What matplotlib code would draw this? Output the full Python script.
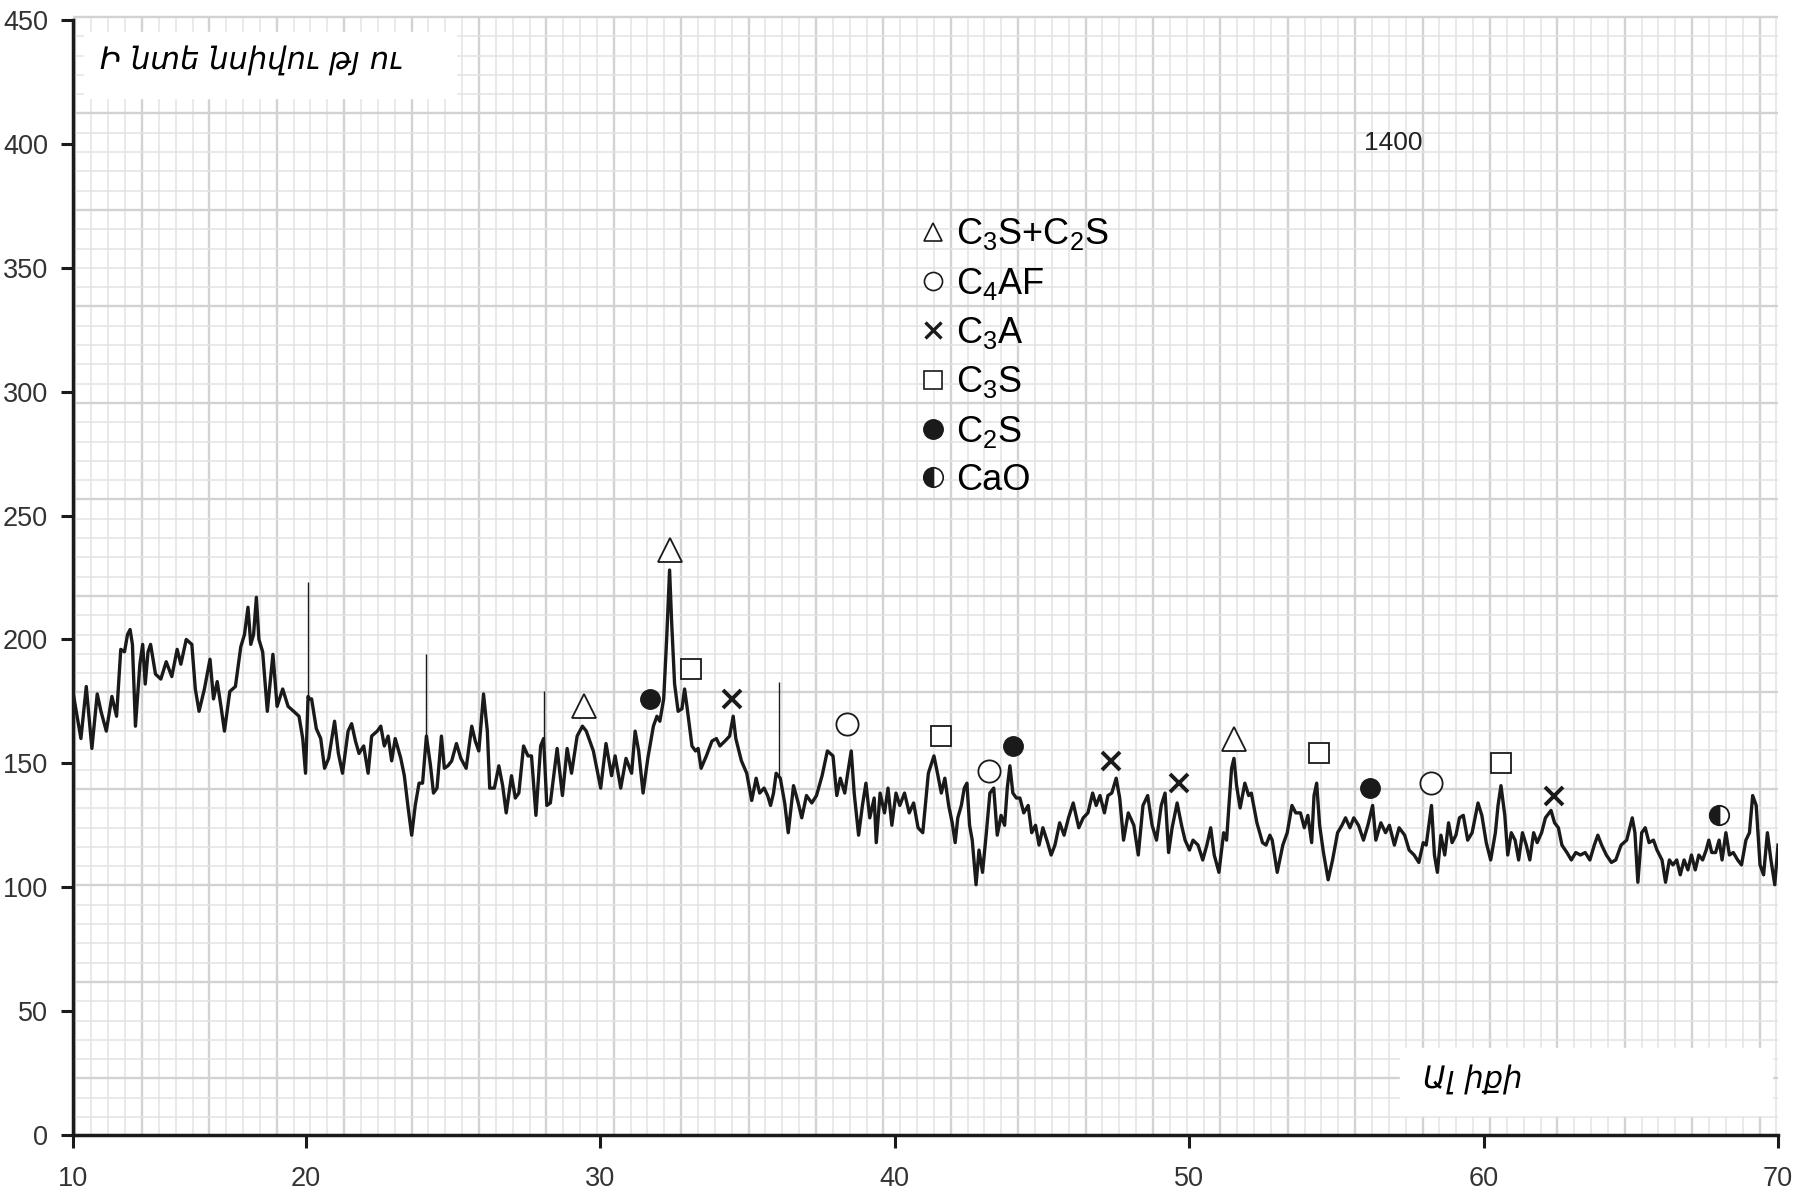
import numpy as np
import matplotlib.pyplot as plt
from matplotlib.lines import Line2D
from matplotlib.patches import Rectangle

plt.rcParams['font.family'] = ['Liberation Sans', 'DejaVu Sans']
plt.rcParams['mathtext.default'] = 'regular'

# XRD pattern (2θ, intensity)
two_theta = [
    10.03, 10.34, 10.57, 10.81, 11.04, 11.20, 11.43, 11.67, 11.87, 12.05,
    12.21, 12.34, 12.45, 12.55, 12.68, 12.87, 12.99, 13.10, 13.22, 13.33,
    13.54, 13.77, 14.00, 14.24, 14.47, 14.63, 14.86, 15.10, 15.25, 15.41,
    15.64, 15.88, 16.03, 16.19, 16.35, 16.50, 16.73, 16.97, 17.20, 17.36,
    17.51, 17.63, 17.75, 17.87, 17.98, 18.14, 18.34, 18.58, 18.76, 19.00,
    19.23, 19.47, 19.70, 19.86, 19.98, 20.07, 20.11, 20.19, 20.35, 20.50,
    20.63, 20.77, 20.97, 21.10, 21.24, 21.43, 21.55, 21.68, 21.80, 21.96,
    22.11, 22.23, 22.42, 22.54, 22.66, 22.79, 22.91, 23.03, 23.22, 23.34,
    23.47, 23.59, 23.71, 23.84, 23.96, 24.09, 24.23, 24.33, 24.45, 24.60,
    24.70, 24.82, 24.95, 25.11, 25.26, 25.44, 25.63, 25.75, 25.87, 26.03,
    26.16, 26.24, 26.40, 26.55, 26.68, 26.80, 26.98, 27.11, 27.23, 27.39,
    27.54, 27.66, 27.81, 27.97, 28.07, 28.18, 28.30, 28.53, 28.71, 28.87,
    29.02, 29.21, 29.39, 29.52, 29.76, 30.01, 30.19, 30.38, 30.50, 30.69,
    30.87, 31.06, 31.18, 31.30, 31.45, 31.61, 31.80, 31.92, 32.02, 32.15,
    32.25, 32.35, 32.42, 32.52, 32.64, 32.77, 32.86, 32.94, 33.11, 33.23,
    33.32, 33.42, 33.60, 33.79, 33.94, 34.06, 34.23, 34.39, 34.51, 34.60,
    34.79, 34.97, 35.14, 35.29, 35.41, 35.56, 35.68, 35.78, 35.88, 35.97,
    36.11, 36.26, 36.38, 36.56, 36.72, 36.84, 37.00, 37.18, 37.34, 37.53,
    37.71, 37.90, 38.03, 38.15, 38.30, 38.40, 38.52, 38.62, 38.77, 38.90,
    39.02, 39.15, 39.30, 39.37, 39.50, 39.65, 39.77, 39.90, 40.04, 40.17,
    40.33, 40.49, 40.64, 40.79, 40.95, 41.14, 41.33, 41.45, 41.58, 41.70,
    41.83, 41.95, 42.05, 42.14, 42.26, 42.36, 42.45, 42.54, 42.63, 42.76,
    42.86, 42.98, 43.11, 43.23, 43.36, 43.48, 43.61, 43.73, 43.82, 43.91,
    44.01, 44.13, 44.25, 44.38, 44.53, 44.65, 44.78, 44.90, 45.03, 45.19,
    45.31, 45.44, 45.60, 45.75, 45.90, 46.06, 46.25, 46.40, 46.56, 46.72,
    46.84, 46.97, 47.12, 47.24, 47.37, 47.52, 47.64, 47.77, 47.93, 48.12,
    48.27, 48.43, 48.59, 48.74, 48.89, 49.05, 49.18, 49.30, 49.42, 49.59,
    49.74, 49.86, 50.01, 50.13, 50.30, 50.46, 50.60, 50.73, 50.85, 51.01,
    51.17, 51.27, 51.35, 51.44, 51.52, 51.61, 51.73, 51.89, 52.02, 52.11,
    52.30, 52.49, 52.61, 52.74, 52.82, 52.99, 53.18, 53.33, 53.49, 53.62,
    53.78, 53.91, 54.03, 54.16, 54.24, 54.33, 54.43, 54.56, 54.72, 54.87,
    55.04, 55.19, 55.31, 55.46, 55.59, 55.75, 55.92, 56.07, 56.23, 56.34,
    56.51, 56.67, 56.80, 56.97, 57.13, 57.32, 57.47, 57.64, 57.80, 57.95,
    58.05, 58.14, 58.23, 58.33, 58.43, 58.55, 58.68, 58.81, 58.93, 59.06,
    59.18, 59.31, 59.46, 59.61, 59.71, 59.81, 59.94, 60.09, 60.24, 60.40,
    60.49, 60.59, 60.72, 60.82, 60.94, 61.07, 61.19, 61.32, 61.45, 61.57,
    61.70, 61.82, 61.97, 62.10, 62.29, 62.41, 62.54, 62.66, 62.83, 62.98,
    63.13, 63.29, 63.45, 63.61, 63.76, 63.88, 64.01, 64.17, 64.34, 64.49,
    64.67, 64.86, 65.05, 65.14, 65.24, 65.37, 65.49, 65.62, 65.77, 65.89,
    66.06, 66.18, 66.31, 66.43, 66.56, 66.68, 66.81, 66.94, 67.06, 67.19,
    67.31, 67.44, 67.56, 67.65, 67.75, 67.88, 68.00, 68.10, 68.23, 68.35,
    68.48, 68.63, 68.76, 68.91, 69.03, 69.14, 69.26, 69.39, 69.51, 69.64,
    69.76, 69.89, 70.00,
]
intensity = [
    177, 160, 181, 156, 178, 171, 163, 177, 169, 196,
    195, 202, 204, 198, 165, 190, 198, 182, 195, 198,
    186, 184, 191, 185, 196, 190, 200, 198, 180, 171,
    180, 192, 176, 183, 173, 163, 179, 181, 197, 202,
    213, 198, 202, 217, 200, 195, 171, 194, 173, 180,
    173, 171, 169, 160, 146, 177, 176, 176, 164, 160,
    148, 152, 167, 154, 146, 163, 166, 159, 154, 157,
    146, 161, 163, 165, 157, 161, 151, 160, 152, 145,
    132, 121, 133, 142, 142, 161, 149, 138, 140, 161,
    148, 149, 151, 158, 152, 148, 165, 159, 155, 178,
    163, 140, 140, 149, 141, 130, 145, 136, 138, 157,
    153, 153, 129, 157, 160, 133, 134, 156, 137, 156,
    146, 161, 165, 163, 155, 140, 158, 145, 153, 140,
    152, 146, 163, 155, 138, 152, 165, 169, 167, 176,
    200, 228, 207, 182, 171, 172, 180, 173, 157, 155,
    156, 148, 153, 159, 160, 157, 159, 161, 169, 160,
    151, 146, 135, 144, 138, 140, 137, 133, 138, 146,
    144, 134, 122, 141, 134, 128, 137, 134, 137, 145,
    155, 153, 137, 144, 138, 146, 155, 138, 121, 133,
    142, 128, 136, 118, 138, 130, 140, 125, 138, 133,
    138, 130, 134, 124, 122, 146, 153, 146, 138, 144,
    133, 126, 118, 128, 133, 140, 142, 125, 119, 101,
    115, 106, 122, 138, 140, 121, 129, 125, 140, 149,
    138, 136, 136, 130, 133, 122, 125, 117, 124, 118,
    113, 117, 126, 121, 128, 134, 124, 128, 130, 138,
    133, 137, 130, 137, 138, 144, 136, 119, 130, 125,
    113, 133, 137, 125, 119, 133, 138, 114, 124, 134,
    125, 119, 115, 119, 117, 111, 117, 124, 113, 106,
    122, 119, 133, 148, 152, 141, 132, 142, 137, 138,
    126, 118, 117, 121, 119, 106, 117, 122, 133, 130,
    130, 124, 129, 118, 137, 142, 125, 114, 103, 111,
    122, 125, 128, 124, 128, 125, 119, 125, 133, 119,
    126, 122, 125, 117, 124, 121, 115, 113, 110, 118,
    117, 125, 133, 113, 106, 121, 113, 126, 118, 121,
    128, 129, 119, 122, 128, 134, 129, 118, 111, 122,
    133, 141, 129, 113, 122, 119, 111, 122, 117, 111,
    122, 118, 122, 128, 131, 126, 124, 117, 114, 111,
    114, 113, 114, 111, 117, 121, 117, 113, 110, 111,
    117, 119, 128, 122, 102, 122, 124, 118, 119, 115,
    111, 102, 111, 109, 111, 105, 111, 107, 113, 107,
    113, 111, 115, 119, 114, 114, 119, 111, 122, 113,
    114, 111, 109, 119, 122, 137, 133, 109, 105, 122,
    111, 101, 117,
]

# thin single-channel spikes
spike_x = [20.08, 24.09, 28.07, 36.07]
spike_low = [177, 161, 160, 144]
spike_high = [223, 194, 179, 183]

# phase labels above the peaks
c3s_c2s_x, c3s_c2s_y = [29.45, 32.36, 51.52], [173, 236, 160]
c4af_x, c4af_y = [38.37, 43.20, 58.23], [166, 147, 142]
c3a_x, c3a_y = [34.48, 47.34, 49.64, 62.39], [176, 151, 142, 137]
c3s_x, c3s_y = [33.08, 41.58, 54.41, 60.59], [188, 161, 154, 150]
c2s_x, c2s_y = [31.70, 44.00, 56.13], [176, 157, 140]
cao_x, cao_y = [68.00], [129]

x_ticks = [10, 20, 30, 40, 50, 60, 70]
y_ticks = [0, 50, 100, 150, 200, 250, 300, 350, 400, 450]

W, H = 1812, 1192
fig = plt.figure(figsize=(W / 100, H / 100), dpi=100)

# graph paper background, pixel coordinates
L, R, T, B = 73, 1778, 20, 1135
bg = fig.add_axes([0, 0, 1, 1], zorder=0)
bg.set_xlim(0, W)
bg.set_ylim(H, 0)
bg.axis('off')
vx = np.arange(74.6, R + 1, 16.85)
hy = np.arange(17.0, B, 19.3)
bg.vlines(vx, 17, B, color='#e3e3e3', lw=1.1)
bg.vlines(vx[::4], 17, B, color='#d2d2d2', lw=1.7)
bg.hlines(hy, L, R, color='#e3e3e3', lw=1.1)
bg.hlines(hy[::5], L, R, color='#d2d2d2', lw=1.7)
bg.add_patch(Rectangle((84, 32), 372, 66, color='white', zorder=3))
bg.add_patch(Rectangle((1400, 1048), 372, 67, color='white', zorder=3))
bg.text(100, 70, 'Ի նտե նսիվու թյ ու', fontsize=22, style='italic',
        family=['DejaVu Sans'], va='baseline', zorder=4)
bg.text(1423, 1089, 'Ալ իքի', fontsize=22, style='italic',
        family=['DejaVu Sans'], va='baseline', zorder=4)
bg.text(1393, 143, '1400', fontsize=19, ha='center', va='center', color='#222222')

ax = fig.add_axes([L / W, (H - B) / H, (R - L) / W, (B - T) / H], zorder=2)
ax.patch.set_alpha(0)


# the scan's 10-20 segment is drawn narrower than the rest
def fwd(x):
    x = np.asarray(x, float)
    return np.where(x < 20, (x - 20) * 23.3, (x - 20) * 29.44)


def inv(p):
    p = np.asarray(p, float)
    return np.where(p < 0, p / 23.3 + 20, p / 29.44 + 20)


ax.set_xscale('function', functions=(fwd, inv))
ax.set_xlim(10, 70)
ax.set_ylim(0, 450)
ax.set_xticks(x_ticks)
ax.set_yticks(y_ticks)
ax.minorticks_off()

ax.plot(two_theta, intensity, color='#1a1a1a', lw=2.4)
ax.vlines(spike_x, spike_low, spike_high, color='#1a1a1a', lw=1.0)

mk = dict(ls='none', mec='#1a1a1a', zorder=5)
ax.plot(c3s_c2s_x, c3s_c2s_y, marker='^', ms=17, mfc='white', mew=1.3, **mk)
ax.plot(c4af_x, c4af_y, marker='o', ms=16, mfc='white', mew=1.3, **mk)
ax.plot(c3a_x, c3a_y, marker='x', ms=13, mew=2.8, **mk)
ax.plot(c3s_x, c3s_y, marker='s', ms=14, mfc='white', mew=1.3, **mk)
ax.plot(c2s_x, c2s_y, marker='o', ms=14, mfc='#1a1a1a', **mk)
ax.plot(cao_x, cao_y, marker='o', ms=14, fillstyle='left', mfc='#1a1a1a',
        mfcalt='white', mew=1.3, **mk)

handles = [
    Line2D([], [], marker='^', ms=13, mfc='white', mec='#1a1a1a', mew=1.2, ls='none'),
    Line2D([], [], marker='o', ms=13, mfc='white', mec='#1a1a1a', mew=1.2, ls='none'),
    Line2D([], [], marker='x', ms=11, mec='#1a1a1a', mew=2.4, ls='none'),
    Line2D([], [], marker='s', ms=13, mfc='white', mec='#1a1a1a', mew=1.2, ls='none'),
    Line2D([], [], marker='o', ms=14, mfc='#1a1a1a', mec='#1a1a1a', ls='none'),
    Line2D([], [], marker='o', ms=14, fillstyle='left', mfc='#1a1a1a', mfcalt='white',
           mec='#1a1a1a', mew=1.2, ls='none'),
]
labels = ['C$_3$S+C$_2$S', 'C$_4$AF', 'C$_3$A', 'C$_3$S', 'C$_2$S', 'CaO']
ax.legend(handles, labels, loc='upper left', bbox_to_anchor=(0.4968, 0.824),
          frameon=False, fontsize=26, handlelength=0.7, handletextpad=0.3,
          labelspacing=0.37, borderpad=0, borderaxespad=0)

for s in ['top', 'right']:
    ax.spines[s].set_visible(False)
for s in ['left', 'bottom']:
    ax.spines[s].set_linewidth(2.5)
    ax.spines[s].set_color('#1a1a1a')
ax.tick_params(direction='out', length=9, width=2.2, color='#1a1a1a',
               labelsize=19.5, labelcolor='#333333')
ax.tick_params(axis='x', pad=13)
ax.tick_params(axis='y', pad=9)

fig.savefig('out.png', dpi=100)
